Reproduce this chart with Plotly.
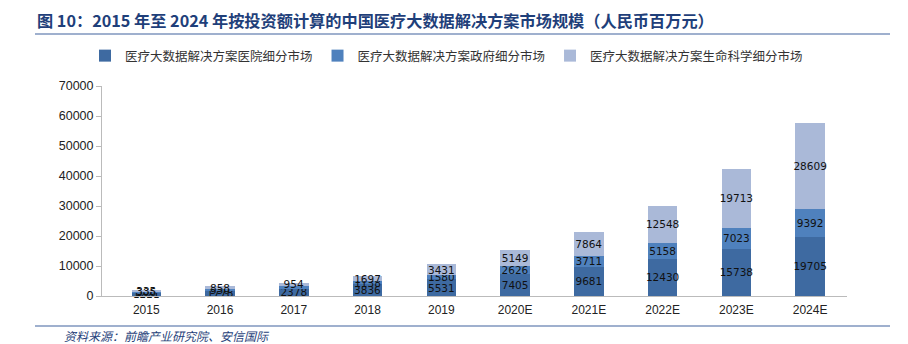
import plotly.graph_objects as go

categories = ["2015", "2016", "2017", "2018", "2019", "2020E", "2021E", "2022E", "2023E", "2024E"]
hospital = [1221, 1778, 2378, 3836, 5531, 7405, 9681, 12430, 15738, 19705]
government = [306, 550, 1012, 1138, 1580, 2626, 3711, 5158, 7023, 9392]
life_science = [335, 858, 954, 1697, 3431, 5149, 7864, 12548, 19713, 28609]
gov_labels = [str(v) for v in government]
gov_labels[2] = ""

names = ["医疗大数据解决方案医院细分市场", "医疗大数据解决方案政府细分市场", "医疗大数据解决方案生命科学细分市场"]
colors = ["#3E6AA1", "#4F81BD", "#AAB9D8"]

fig = go.Figure()
for name, vals, col, labels in [
    (names[0], hospital, colors[0], [str(v) for v in hospital]),
    (names[1], government, colors[1], gov_labels),
    (names[2], life_science, colors[2], [str(v) for v in life_science]),
]:
    fig.add_trace(go.Bar(
        x=categories, y=vals, name=name, marker=dict(color=col, line=dict(width=0)),
        text=labels, textposition="inside", insidetextanchor="middle", textangle=0,
        constraintext="none", cliponaxis=False,
        textfont=dict(family="DejaVu Sans", size=10.5, color="#111111"),
    ))

fig.update_layout(
    barmode="stack", bargap=0.6,
    width=908, height=344,
    margin=dict(l=0, r=0, t=0, b=0, autoexpand=False),
    paper_bgcolor="white", plot_bgcolor="white",
    showlegend=True,
    legend=dict(orientation="h", x=85/908, y=1-56/344, xanchor="left", yanchor="middle",
                traceorder="normal",
                font=dict(family="Noto Sans CJK SC", size=12.5, color="#333333")),
    xaxis=dict(domain=[102/908, 847/908], range=[-0.6, 9.5], type="category",
               automargin=False,
               showline=True, linecolor="#BBBBBB", linewidth=1,
               ticks="outside", ticklen=3, tickcolor="rgba(0,0,0,0)",
               tickfont=dict(family="Liberation Sans", size=12, color="#222222"),
               showgrid=False),
    yaxis=dict(domain=[(344-296)/344, (344-86)/344], range=[0, 70000], dtick=10000,
               tickformat="d", automargin=False,
               showline=True, linecolor="#BBBBBB", linewidth=1, ticks="outside",
               tickcolor="#BBBBBB", ticklen=5, showgrid=False, zeroline=False,
               tickfont=dict(family="Liberation Sans", size=12.5, color="#222222")),
    annotations=[
        dict(text="<b>图 10：2015 年至 2024 年按投资额计算的中国医疗大数据解决方案市场规模（人民币百万元）</b>",
             x=35/908, y=1-20/344, xref="paper", yref="paper", xanchor="left", yanchor="middle",
             showarrow=False, font=dict(family="Noto Sans CJK SC", size=16.2, color="#1F3F7A")),
        dict(text="<i>资料来源：前瞻产业研究院、安信国际</i>",
             x=62/908, y=1-335/344, xref="paper", yref="paper", xanchor="left", yanchor="middle",
             showarrow=False, font=dict(family="Noto Sans CJK SC", size=12, color="#1F3F7A")),
    ],
    shapes=[
        dict(type="line", xref="paper", yref="paper", x0=35/908, x1=890/908,
             y0=1-34/344, y1=1-34/344, line=dict(color="#9FB0CE", width=2)),
        dict(type="line", xref="paper", yref="paper", x0=35/908, x1=890/908,
             y0=1-326/344, y1=1-326/344, line=dict(color="#9FB0CE", width=2)),
    ],
)

fig.write_html("out.html")
